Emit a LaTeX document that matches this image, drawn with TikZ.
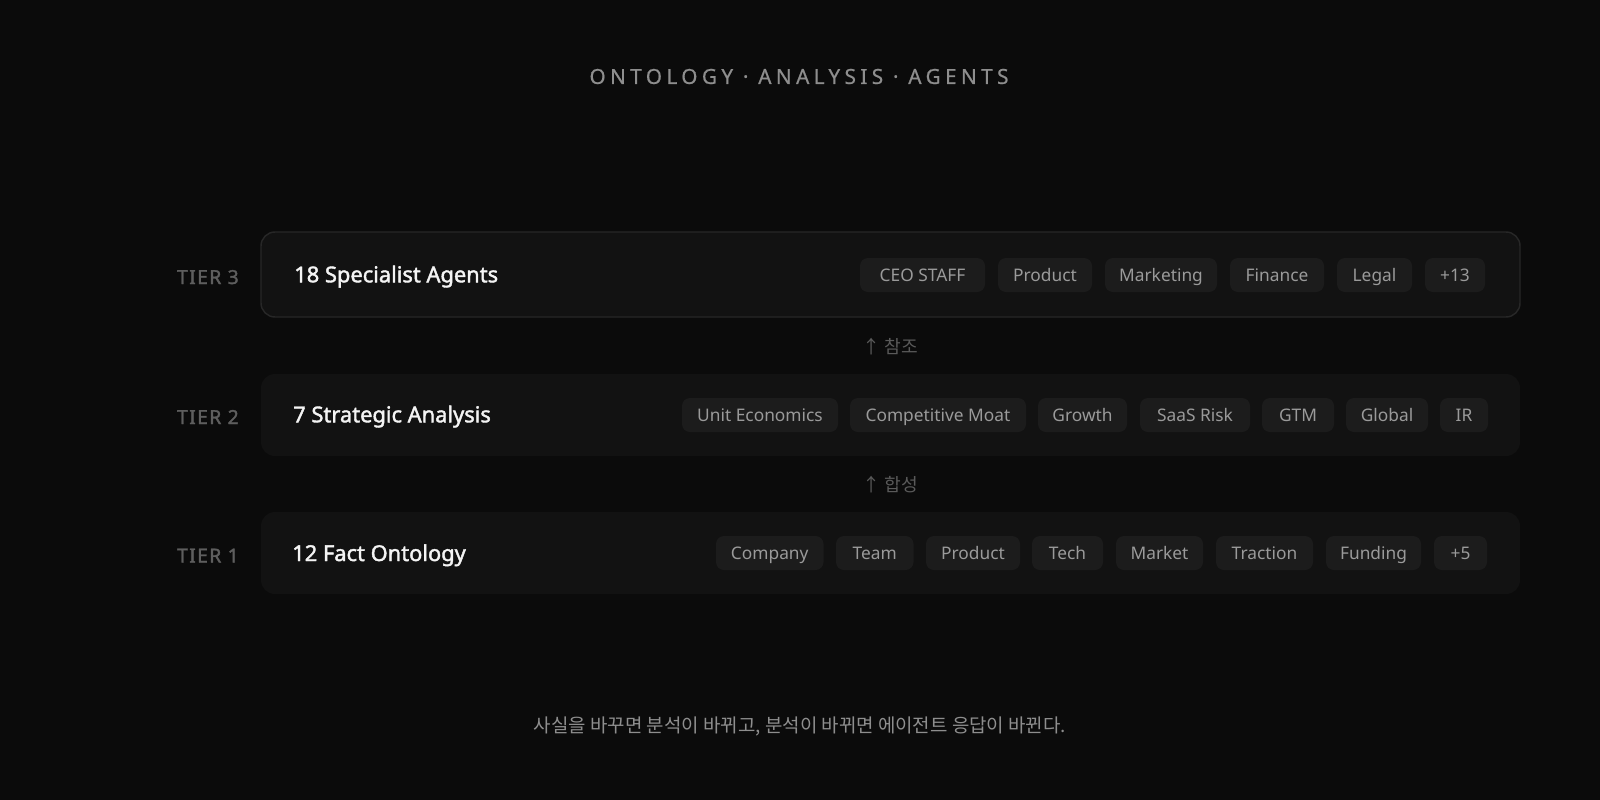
\documentclass[tikz,border=0pt]{standalone}
\usepackage{fontspec}
\setmainfont{Noto Sans}
\newfontfamily\kr{Noto Sans CJK KR}
\newfontfamily\spaced[LetterSpace=21,FakeBold=0.6]{Noto Sans}
\newfontfamily\tierfont[LetterSpace=7,FakeBold=1.6]{Noto Sans}
\newfontfamily\titlefont[FakeBold=1.8]{Noto Sans}
\definecolor{bg}{HTML}{0B0B0B}
\definecolor{boxfill}{HTML}{121212}
\definecolor{boxline}{HTML}{272727}
\definecolor{pillfill}{HTML}{1C1C1C}
\definecolor{pilltext}{HTML}{9A9A9A}
\definecolor{tiertext}{HTML}{5E5E5E}
\definecolor{headtext}{HTML}{8E8E8E}
\definecolor{arrowtext}{HTML}{5A5A5A}
\definecolor{titletext}{HTML}{F4F4F4}
\tikzset{
  tierbox/.style={draw=none, fill=boxfill, rounded corners=10.5pt, inner sep=0pt, minimum width=1259*0.75pt, minimum height=82*0.75pt},
  tierboxline/.style={tierbox, draw=boxline, line width=1.1pt},
  pill/.style={fill=pillfill, rounded corners=6pt, inner sep=0pt, minimum height=34*0.75pt, text=pilltext, text height=9.2pt, text depth=0pt, font=\fontsize{13}{15}\selectfont},
  tierlabel/.style={anchor=base east, text=tiertext, inner sep=0pt, font=\tierfont\fontsize{14.5}{17}\selectfont},
  tiertitle/.style={anchor=base west, text=titletext, inner sep=0pt, font=\titlefont\fontsize{16.4}{19}\selectfont},
  linktext/.style={text=arrowtext, inner sep=0pt, font=\kr\fontsize{13.6}{16}\selectfont}
}
\newcommand\pill[5]{\node[pill, minimum width={(#3-#2)*0.75pt}] (#1) at ({(#2+#3)/2},#4) {#5};}
\begin{document}
\begin{tikzpicture}[x=0.75pt,y=-0.75pt]
\fill[bg] (0,0) rectangle (1600,800);
\useasboundingbox (0,0) rectangle (1600,800);

% heading
\node[text=headtext, inner sep=0pt, font=\spaced\fontsize{15.6}{18}\selectfont] (head) at (799,76.5) {ONTOLOGY · ANALYSIS · AGENTS};

% tier boxes
\node[tierboxline, minimum height=85*0.75pt] (t3) at (890.5,274.5) {};
\node[tierbox] (t2) at (890.5,415) {};
\node[tierbox] (t1) at (890.5,553) {};

% tier labels
\node[tierlabel] (l3) at (239,284) {TIER 3};
\node[tierlabel] (l2) at (239,424) {TIER 2};
\node[tierlabel] (l1) at (239,562.5) {TIER 1};

% tier titles
\node[tiertitle] (h3) at (294,282.3) {18 Specialist Agents};
\node[tiertitle] (h2) at (293,422.3) {7 Strategic Analysis};
\node[tiertitle] (h1) at (292,561) {12 Fact Ontology};

% tier 3 pills
\pill{p31}{860}{985}{275}{CEO STAFF}
\pill{p32}{998}{1092}{275}{Product}
\pill{p33}{1105}{1217}{275}{Marketing}
\pill{p34}{1230}{1324}{275}{Finance}
\pill{p35}{1337}{1412}{275}{Legal}
\pill{p36}{1425}{1485}{275}{+13}

% tier 2 pills
\pill{p21}{682}{838}{415}{Unit Economics}
\pill{p22}{850}{1026}{415}{Competitive Moat}
\pill{p23}{1038}{1127}{415}{Growth}
\pill{p24}{1140}{1250}{415}{SaaS Risk}
\pill{p25}{1262}{1334}{415}{GTM}
\pill{p26}{1346}{1428}{415}{Global}
\pill{p27}{1440}{1488}{415}{IR}

% tier 1 pills
\pill{p11}{716}{823.5}{553}{Company}
\pill{p12}{836}{913.5}{553}{Team}
\pill{p13}{926}{1020}{553}{Product}
\pill{p14}{1032}{1103}{553}{Tech}
\pill{p15}{1116}{1203}{553}{Market}
\pill{p16}{1216}{1313}{553}{Traction}
\pill{p17}{1326}{1421}{553}{Funding}
\pill{p18}{1434}{1487}{553}{+5}

% links between tiers
\node[linktext] (a32) at (890,347) {↑ 참조};
\node[linktext] (a21) at (890,485) {↑ 합성};

% footer
\node[text=headtext, inner sep=0pt, font=\kr\fontsize{14.2}{17}\selectfont] (foot) at (800,726) {사실을 바꾸면 분석이 바뀌고, 분석이 바뀌면 에이전트 응답이 바뀐다.};
\end{tikzpicture}
\end{document}
